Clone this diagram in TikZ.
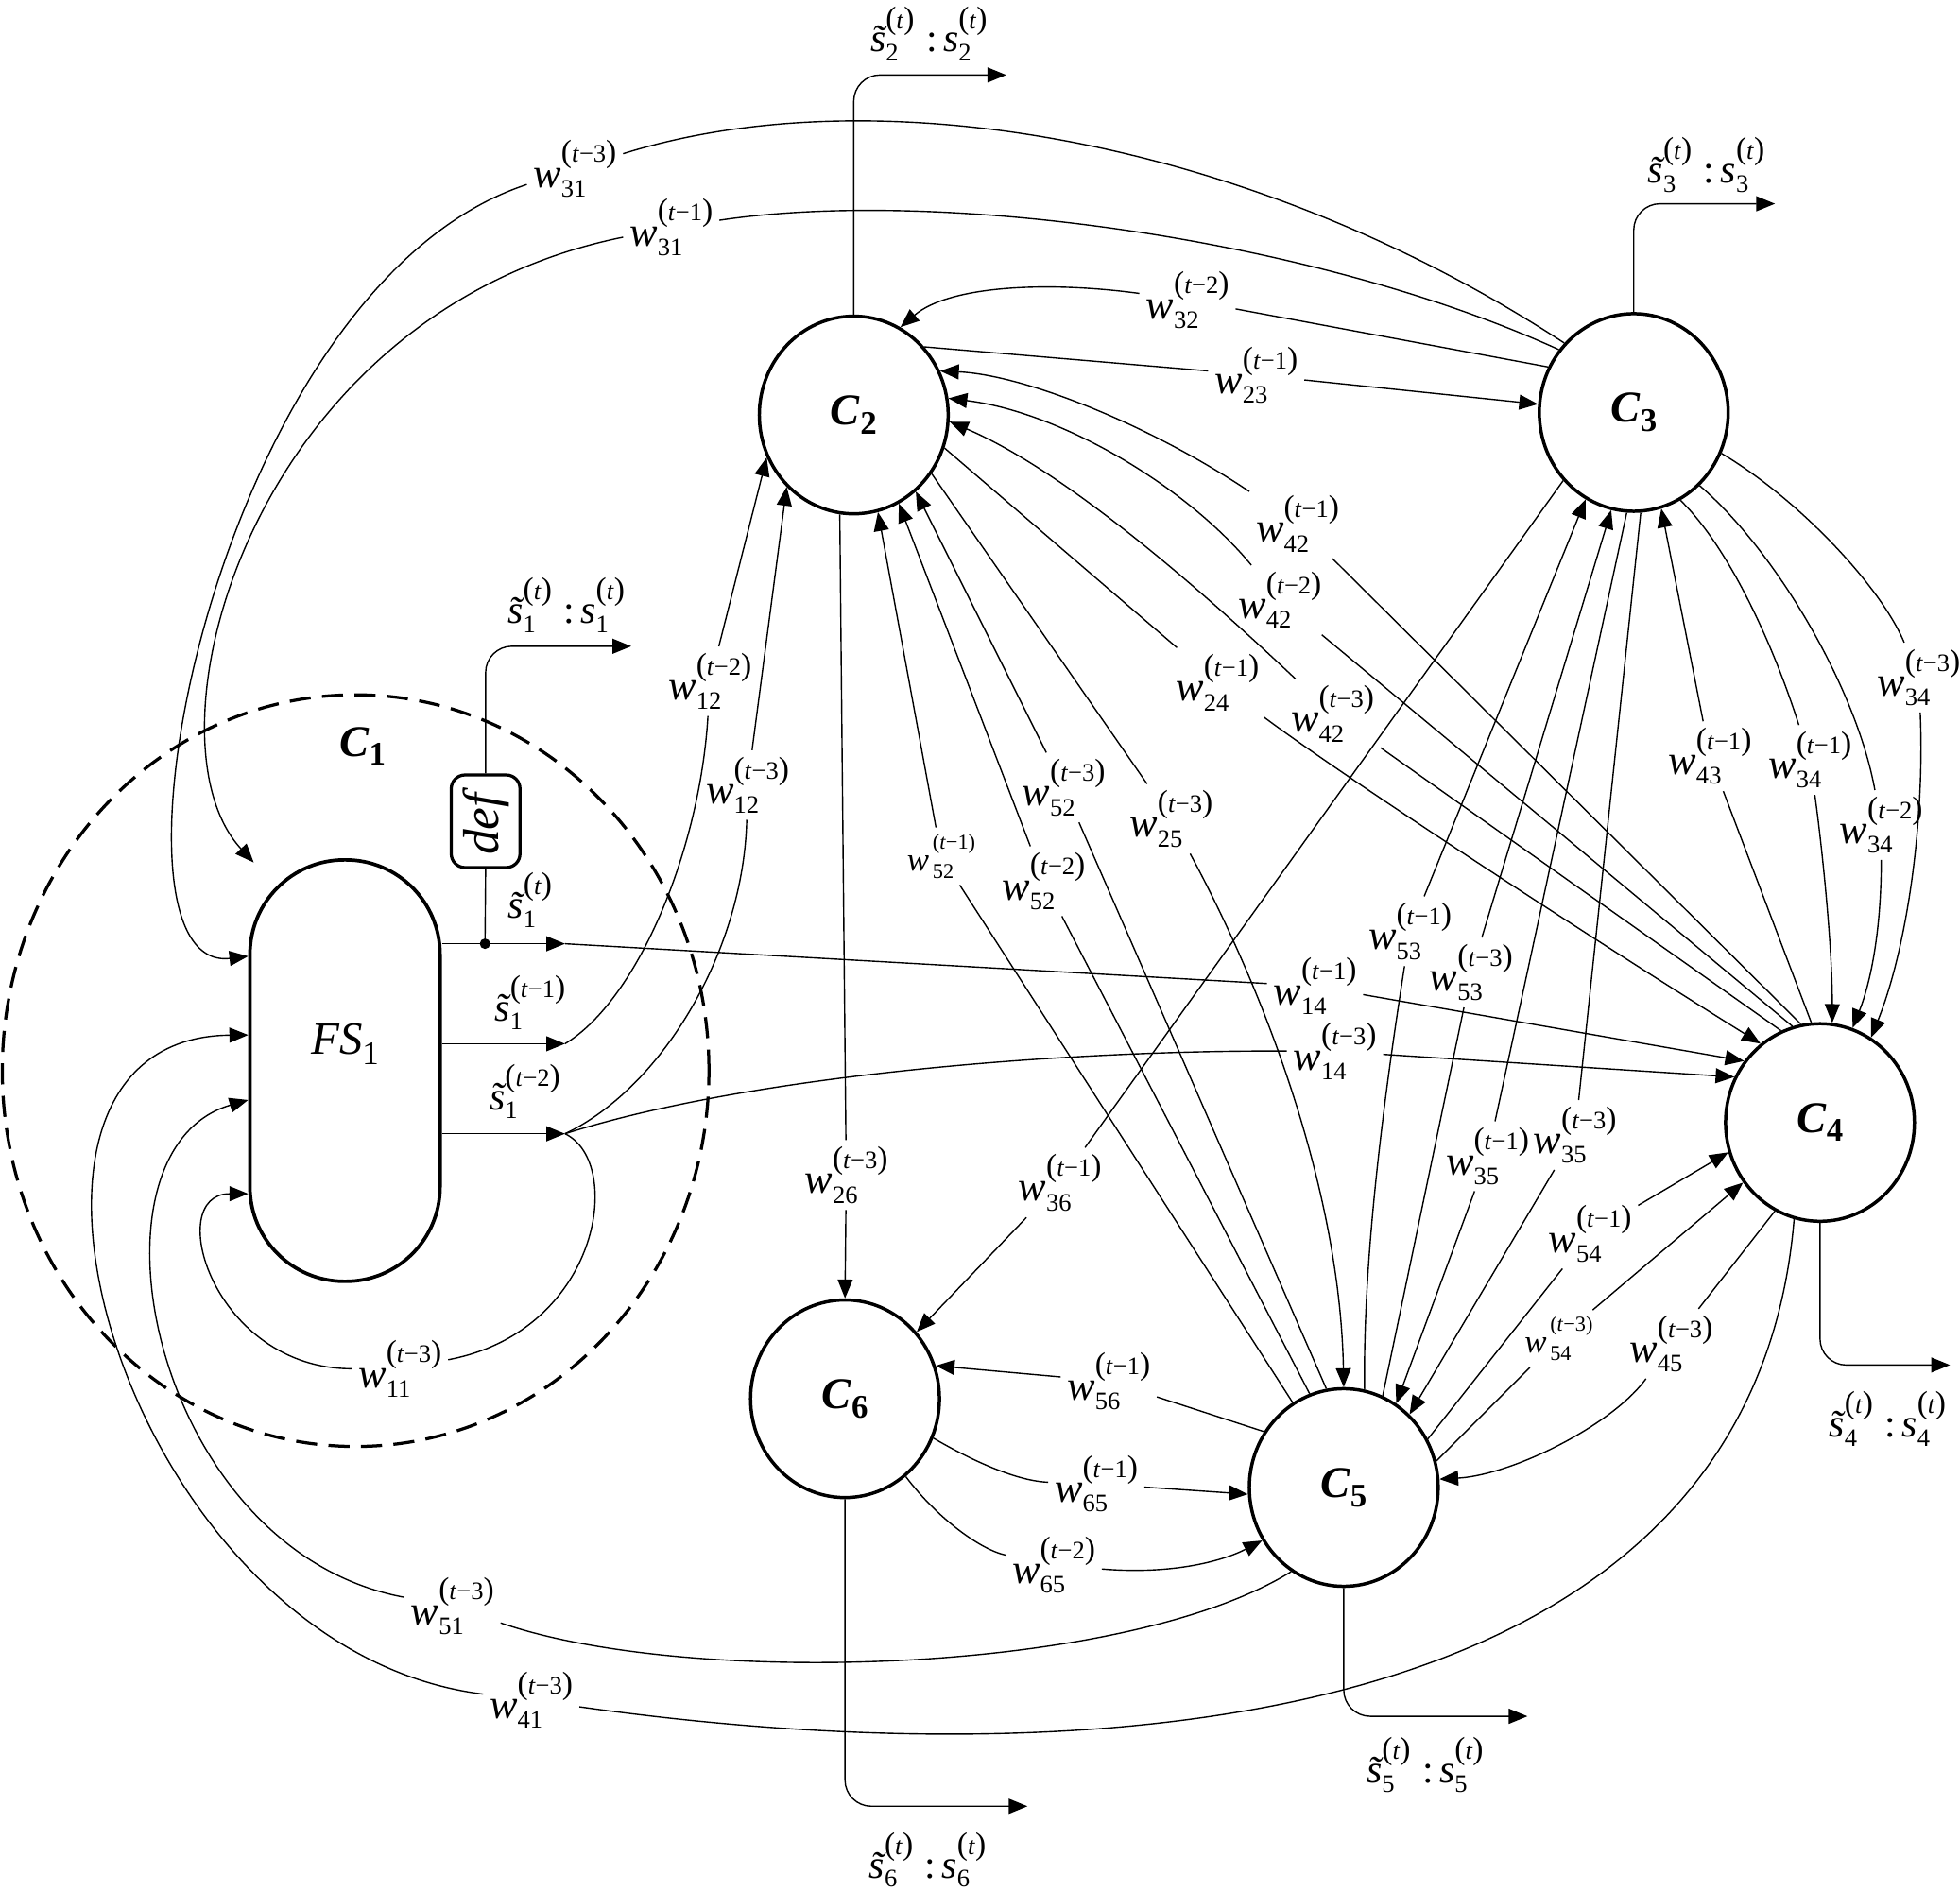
\documentclass[tikz,border=0pt]{standalone}
\usepackage{fontspec}
\setmainfont{Liberation Serif}
\usetikzlibrary{arrows.meta,shapes.geometric}
\newlength\swd
\newcommand\myscr{\fontsize{5.7}{6}\selectfont}
\newcommand\mypar{\fontsize{7.2}{7}\selectfont}
\newcommand\stk[3]{#1\rlap{\raisebox{-0.5ex}{\myscr #2}}\raisebox{1.3ex}{\mypar(\myscr #3\mypar)}}
\newcommand\wl[2]{\stk{\textit{w}}{#1}{\textit{t}−#2}}
\newcommand\wls[2]{\textit{w}\rlap{\raisebox{-0.5ex}{\fontsize{4.8}{5}\selectfont\,#1}}\raisebox{1.45ex}{\fontsize{4.8}{5}\selectfont\,(\textit{t}−#2)}}
\newcommand\tilS{\settowidth\swd{\textit{s}}\makebox[\swd][l]{\textit{s\char"0303}}}
\newcommand\olab[1]{\stk{\tilS}{#1}{\textit{t}}\hspace{0.3em}:\hspace{0.15em}\stk{\textit{s}}{#1}{\textit{t}}}
\newcommand\cname[1]{\textbf{\textit{C}}\raisebox{-0.45ex}{\fontsize{7.5}{8}\selectfont\textbf{#1}}}
\tikzset{
  ln/.style={line width=0.3pt},
  arr/.style={line width=0.3pt,-{Triangle[length=1.5mm,width=1.2mm]}},
  cir/.style={ellipse,draw,line width=0.75pt,minimum width=1.51cm,minimum height=1.58cm,inner sep=0pt,font=\fontsize{10}{12}\selectfont},
  lab/.style={inner sep=1.3pt,font=\fontsize{9.5}{11}\selectfont},
  slab/.style={inner sep=1.3pt,font=\fontsize{7.5}{9}\selectfont},
  olabel/.style={inner sep=0pt,font=\fontsize{9}{11}\selectfont},
}
\begin{document}
\begin{tikzpicture}[x=0.01cm,y=-0.01cm]
\useasboundingbox (0,0) rectangle (1568,1513);
% ---- C1 region
\node[ellipse,draw,dashed,dash pattern=on 4.8pt off 2.6pt,line width=0.7pt,minimum width=5.65cm,minimum height=6.01cm,inner sep=0pt] (C1) at (284.5,856.5) {};
\node[font=\fontsize{10}{12}\selectfont] (C1lab) at (290,597) {\cname{1}};
\node[draw,line width=0.8pt,rounded corners=0.755cm,minimum width=1.52cm,minimum height=3.37cm,inner sep=0pt] (FS) at (276,856.5) {};
\node[font=\fontsize{10.5}{12}\selectfont] (FStext) at (276,835) {\textit{FS}\raisebox{-0.5ex}{\fontsize{7.5}{8}\selectfont 1}};
\node[draw,line width=0.7pt,rounded corners=0.11cm,minimum width=0.55cm,minimum height=0.74cm,inner sep=0pt,font=\fontsize{11.5}{12}\selectfont] (def) at (388.5,657) {\rotatebox{90}{\textit{def}}};
\coordinate (o0) at (452,755);
\coordinate (o1) at (452,835);
\coordinate (o2) at (452,907);
\coordinate (dot) at (388,755);
\coordinate (e1) at (505,517);
\coordinate (fa) at (203,690);
\coordinate (fb) at (FS.west |- 0,765);
\coordinate (fc) at (FS.west |- 0,828);
\coordinate (fd) at (FS.west |- 0,880);
\coordinate (fe) at (FS.west |- 0,955);
% ---- circles
\node[cir] (C2) at (683,332) {\cname{2}};
\node[cir] (C3) at (1307,330) {\cname{3}};
\node[cir] (C4) at (1456,898) {\cname{4}};
\node[cir] (C5) at (1075,1190) {\cname{5}};
\node[cir] (C6) at (676,1119) {\cname{6}};
% ---- output ends
\coordinate (e2) at (805,60);
\coordinate (e3) at (1420,163);
\coordinate (e4) at (1560,1092);
\coordinate (e5) at (1222,1373);
\coordinate (e6) at (822,1445);
% ---- output labels
\node[olabel] (s1o) at (453,484) {\olab{1}};
\node[olabel] (s2o) at (743,27) {\olab{2}};
\node[olabel] (s3o) at (1365,132) {\olab{3}};
\node[olabel] (s4o) at (1510,1135) {\olab{4}};
\node[olabel] (s5o) at (1140,1412) {\olab{5}};
\node[olabel] (s6o) at (742,1488) {\olab{6}};
\node[olabel] (st0) at (424,720) {\stk{\tilS}{1}{\textit{t}}};
\node[olabel] (st1) at (424,802) {\stk{\tilS}{1}{\textit{t}−1}};
\node[olabel] (st2) at (420,873) {\stk{\tilS}{1}{\textit{t}−2}};
% ---- weight labels
\node[lab] (L31c) at (460,135) {\wl{31}{3}};
\node[lab] (L31a) at (537,182) {\wl{31}{1}};
\node[lab] (L32) at (950,240) {\wl{32}{2}};
\node[lab] (L23) at (1005,300) {\wl{23}{1}};
\node[lab] (L42a) at (1038,419) {\wl{42}{1}};
\node[lab] (L42b) at (1024,480) {\wl{42}{2}};
\node[lab] (L24) at (974,546) {\wl{24}{1}};
\node[lab] (L42c) at (1066,571) {\wl{42}{3}};
\node[lab] (L34c) at (1535,542) {\wl{34}{3}};
\node[lab] (L43) at (1368,605) {\wl{43}{1}};
\node[lab] (L34a) at (1448,608) {\wl{34}{1}};
\node[lab] (L34b) at (1505,660) {\wl{34}{2}};
\node[lab] (L12a) at (568,545) {\wl{12}{2}};
\node[lab] (L12b) at (598,628) {\wl{12}{3}};
\node[lab] (L52c) at (851,630) {\wl{52}{3}};
\node[lab] (L25) at (937,655) {\wl{25}{3}};
\node[slab] (L52a) at (753,685) {\wls{52}{1}};
\node[lab] (L52b) at (835,705) {\wl{52}{2}};
\node[lab] (L53a) at (1128,745) {\wl{53}{1}};
\node[lab] (L53b) at (1177,778) {\wl{53}{3}};
\node[lab] (L14a) at (1052,789) {\wl{14}{1}};
\node[lab] (L14b) at (1068,841) {\wl{14}{3}};
\node[lab] (L26) at (677,940) {\wl{26}{3}};
\node[lab] (L36) at (848,946) {\wl{36}{1}};
\node[lab] (L35a) at (1190,925) {\wl{35}{1}};
\node[lab] (L35b) at (1260,908) {\wl{35}{3}};
\node[lab] (L54a) at (1272,987) {\wl{54}{1}};
\node[slab] (L54b) at (1247,1071) {\wls{54}{3}};
\node[lab] (L45) at (1337,1075) {\wl{45}{3}};
\node[lab] (L56) at (887,1105) {\wl{56}{1}};
\node[lab] (L65a) at (877,1187) {\wl{65}{1}};
\node[lab] (L65b) at (843,1252) {\wl{65}{2}};
\node[lab] (L11) at (320,1095) {\wl{11}{3}};
\node[lab] (L51) at (362,1285) {\wl{51}{3}};
\node[lab] (L41) at (425,1360) {\wl{41}{3}};
% ---- FS outputs and def
\draw[arr] (FS.east |- o0) -- (o0);
\draw[arr] (FS.east |- o1) -- (o1);
\draw[arr] (FS.east |- o2) -- (o2);
\fill (dot) circle (4.2);
\draw[ln] (dot) -- (def.south);
\draw[arr,rounded corners=0.21cm] (def.north) |- (e1);
% ---- node outputs
\draw[arr,rounded corners=0.21cm] (C2.north) |- (e2);
\draw[arr,rounded corners=0.21cm] (C3.north) |- (e3);
\draw[arr,rounded corners=0.21cm] (C4.south) |- (e4);
\draw[arr,rounded corners=0.21cm] (C5.south) |- (e5);
\draw[arr,rounded corners=0.21cm] (C6.south) |- (e6);
% ---- connectors
\draw[arr] (C3.135) .. controls (1000,110) and (700,60) .. (L31c) .. controls (170,230) and (70,780) .. (fb);
\draw[arr] (C3.140) .. controls (1050,190) and (750,150) .. (L31a) .. controls (200,250) and (110,590) .. (fa);
\draw[arr] (C3.152) -- (L32) .. controls (840,225) and (760,228) .. (C2.62);
\draw[arr] (C2.44) -- (L23) -- (C3.175);
\draw[arr] (C4.101) -- (L42a) .. controls (920,340) and (820,300) .. (C2.27);
\draw[arr] (C4.106) -- (L42b) .. controls (950,390) and (850,330) .. (C2.10);
\draw[arr] (C4.113) -- (L42c) .. controls (980,490) and (860,380) .. (C2.-4);
\draw[arr] (C2.-20) -- (L24) .. controls (1080,625) and (1280,755) .. (C4.127);
\draw[arr] (C2.-37) -- (L25) .. controls (1010,790) and (1072,950) .. (C5.90);
\draw[arr] (C5.100) -- (L52c) -- (C2.-51);
\draw[arr] (C5.110) -- (L52b) -- (C2.-63);
\draw[arr] (C5.121) -- (L52a) -- (C2.-76);
\draw[arr] (C2.-98) -- (L26) -- (C6.90);
\draw[arr] (C3.224) -- (L36) -- (C6.43);
\draw[arr] (C5.78) .. controls (1090,1000) and (1110,860) .. (L53a) -- (C3.241);
\draw[arr] (C5.67) -- (L53b) -- (C3.257);
\draw[arr] (C3.-94) -- (L35a) -- (C5.58);
\draw[arr] (C3.-86) -- (L35b) -- (C5.48);
\draw[arr] (C4.95) -- (L43) -- (C3.-74);
\draw[arr] (C3.-62) .. controls (1385,440) and (1420,520) .. (L34a) .. controls (1458,680) and (1466,760) .. (C4.83);
\draw[arr] (C3.-48) .. controls (1420,440) and (1485,550) .. (L34b) .. controls (1505,750) and (1495,790) .. (C4.71);
\draw[arr] (C3.-25) .. controls (1440,400) and (1505,470) .. (L34c) .. controls (1540,660) and (1525,760) .. (C4.59);
\draw[arr] (o0) -- (L14a) -- (C4.141);
\draw[arr] (o2) .. controls (600,860) and (850,840) .. (L14b) -- (C4.152);
\draw[arr] (o1) .. controls (510,800) and (560,680) .. (L12a) -- (C2.206);
\draw[arr] (o2) .. controls (530,870) and (595,760) .. (L12b) -- (C2.227);
\draw[arr] (o2) .. controls (500,930) and (480,1065) .. (L11) .. controls (170,1095) and (130,955) .. (fe);
\draw[arr] (C5.238) .. controls (900,1340) and (550,1350) .. (L51) .. controls (120,1240) and (60,920) .. (fd);
\draw[arr] (C4.-105) .. controls (1400,1400) and (850,1420) .. (L41) .. controls (100,1320) and (-40,830) .. (fc);
\draw[arr] (C5.30) -- (L54a) -- (C4.198);
\draw[arr] (C5.16) -- (L54b) -- (C4.218);
\draw[arr] (C4.243) -- (L45) .. controls (1290,1140) and (1210,1180) .. (C5.5);
\draw[arr] (C5.145) -- (L56) -- (C6.20);
\draw[arr] (C6.-24) .. controls (780,1170) and (815,1185) .. (L65a) -- (C5.184);
\draw[arr] (C6.-52) .. controls (750,1215) and (785,1240) .. (L65b) .. controls (940,1260) and (980,1248) .. (C5.213);
\end{tikzpicture}
\end{document}
